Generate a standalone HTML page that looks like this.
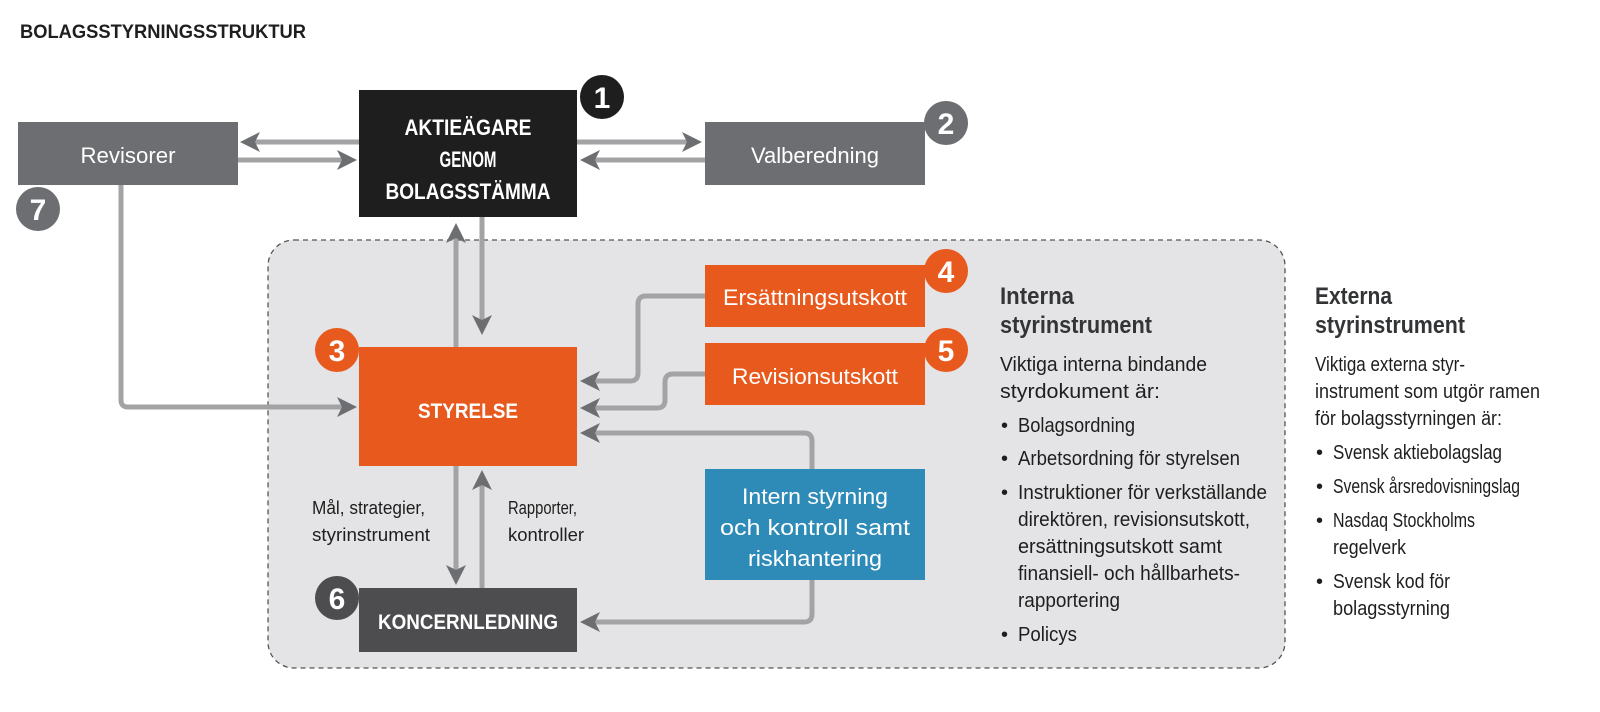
<!DOCTYPE html>
<html><head><meta charset="utf-8"><style>
html,body{margin:0;padding:0;background:#fff;}
svg{display:block;}
text{font-family:"Liberation Sans Narrow","Liberation Sans",sans-serif;}
</style></head><body>
<svg width="1600" height="712" viewBox="0 0 1600 712" xmlns="http://www.w3.org/2000/svg">
<defs>
<marker id="ah" markerWidth="4" markerHeight="4" refX="3" refY="2" orient="auto" markerUnits="strokeWidth">
<path d="M0,0 L4,2 L0,4 L1,2 Z" fill="#6d6e71"/></marker>
</defs>
<text x="20" y="38" font-size="19" font-weight="bold" fill="#1e1e1e" textLength="286" lengthAdjust="spacingAndGlyphs">BOLAGSSTYRNINGSSTRUKTUR</text>

<rect x="268" y="240" width="1017" height="428" rx="26" fill="#e4e4e6" stroke="#555" stroke-width="1.3" stroke-dasharray="5,4"/>

<g stroke="#a3a3a5" stroke-width="5" fill="none" stroke-linejoin="round">
<path d="M359,142 L245,142" marker-end="url(#ah)"/>
<path d="M238,160 L352,160" marker-end="url(#ah)"/>
<path d="M577,142 L697,142" marker-end="url(#ah)"/>
<path d="M705,160 L585,160" marker-end="url(#ah)"/>
<path d="M456,347 L456,228" marker-end="url(#ah)"/>
<path d="M482,217 L482,330" marker-end="url(#ah)"/>
<path d="M121,185 L121,400 Q121,407 128,407 L352,407" marker-end="url(#ah)"/>
<path d="M705,296 L646,296 Q638,296 638,304 L638,373 Q638,381 630,381 L585,381" marker-end="url(#ah)"/>
<path d="M705,374 L673,374 Q665,374 665,382 L665,400 Q665,408 657,408 L585,408" marker-end="url(#ah)"/>
<path d="M812,469 L812,441 Q812,433 804,433 L585,433" marker-end="url(#ah)"/>
<path d="M812,580 L812,614 Q812,622 804,622 L585,622" marker-end="url(#ah)"/>
<path d="M456,466 L456,580" marker-end="url(#ah)"/>
<path d="M482,588 L482,475" marker-end="url(#ah)"/>
</g>

<g lengthAdjust="spacingAndGlyphs">
<rect x="18" y="122" width="220" height="63" fill="#6d6e71"/>
<text x="128" y="163" font-size="22" fill="#fff" text-anchor="middle" textLength="95" lengthAdjust="spacingAndGlyphs">Revisorer</text>
<rect x="705" y="122" width="220" height="63" fill="#6d6e71"/>
<text x="815" y="163" font-size="22" fill="#fff" text-anchor="middle" textLength="128" lengthAdjust="spacingAndGlyphs">Valberedning</text>

<rect x="359" y="90" width="218" height="127" fill="#1e1e1e"/>
<g font-size="22" font-weight="bold" fill="#fff" text-anchor="middle">
<text x="468" y="135" textLength="127" lengthAdjust="spacingAndGlyphs">AKTIEÄGARE</text>
<text x="468" y="167" textLength="57" lengthAdjust="spacingAndGlyphs">GENOM</text>
<text x="468" y="199" textLength="165" lengthAdjust="spacingAndGlyphs">BOLAGSSTÄMMA</text>
</g>

<rect x="359" y="347" width="218" height="119" fill="#e8591e"/>
<text x="468" y="418" font-size="21" font-weight="bold" fill="#fff" text-anchor="middle" textLength="100" lengthAdjust="spacingAndGlyphs">STYRELSE</text>

<rect x="705" y="265" width="220" height="62" fill="#e8591e"/>
<text x="815" y="305" font-size="22" fill="#fff" text-anchor="middle" textLength="184" lengthAdjust="spacingAndGlyphs">Ersättningsutskott</text>
<rect x="705" y="343" width="220" height="62" fill="#e8591e"/>
<text x="815" y="384" font-size="22" fill="#fff" text-anchor="middle" textLength="166" lengthAdjust="spacingAndGlyphs">Revisionsutskott</text>

<rect x="705" y="469" width="220" height="111" fill="#2e8bb8"/>
<g font-size="22" fill="#fff" text-anchor="middle">
<text x="815" y="504" textLength="146" lengthAdjust="spacingAndGlyphs">Intern styrning</text>
<text x="815" y="535" textLength="190" lengthAdjust="spacingAndGlyphs">och kontroll samt</text>
<text x="815" y="566" textLength="134" lengthAdjust="spacingAndGlyphs">riskhantering</text>
</g>

<rect x="359" y="588" width="218" height="64" fill="#4d4d4f"/>
<text x="468" y="629" font-size="21" font-weight="bold" fill="#fff" text-anchor="middle" textLength="180" lengthAdjust="spacingAndGlyphs">KONCERNLEDNING</text>

<g font-size="18" fill="#1e1e1e">
<text x="312" y="514" textLength="113" lengthAdjust="spacingAndGlyphs">Mål, strategier,</text>
<text x="312" y="541" textLength="118" lengthAdjust="spacingAndGlyphs">styrinstrument</text>
<text x="508" y="514" textLength="69" lengthAdjust="spacingAndGlyphs">Rapporter,</text>
<text x="508" y="541" textLength="76" lengthAdjust="spacingAndGlyphs">kontroller</text>
</g>
</g>

<g font-size="30" font-weight="bold" fill="#fff" text-anchor="middle">
<circle cx="602" cy="97" r="22" fill="#1e1e1e"/><text x="602" y="108">1</text>
<circle cx="946" cy="123" r="22" fill="#6d6e71"/><text x="946" y="134">2</text>
<circle cx="38" cy="209" r="22" fill="#6d6e71"/><text x="38" y="220">7</text>
<circle cx="337" cy="350" r="22" fill="#e8591e"/><text x="337" y="361">3</text>
<circle cx="946" cy="271" r="22" fill="#e8591e"/><text x="946" y="282">4</text>
<circle cx="946" cy="350" r="22" fill="#e8591e"/><text x="946" y="361">5</text>
<circle cx="337" cy="598" r="22" fill="#4d4d4f"/><text x="337" y="609">6</text>
</g>

<g fill="#333436" font-size="24" font-weight="bold">
<text x="1000" y="304" textLength="74" lengthAdjust="spacingAndGlyphs">Interna</text>
<text x="1000" y="333" textLength="152" lengthAdjust="spacingAndGlyphs">styrinstrument</text>
<text x="1315" y="304" textLength="77" lengthAdjust="spacingAndGlyphs">Externa</text>
<text x="1315" y="333" textLength="150" lengthAdjust="spacingAndGlyphs">styrinstrument</text>
</g>
<g font-size="20" fill="#1e1e1e">
<text x="1000" y="371" textLength="207" lengthAdjust="spacingAndGlyphs">Viktiga interna bindande</text>
<text x="1000" y="398" textLength="160" lengthAdjust="spacingAndGlyphs">styrdokument är:</text>
<text x="1001" y="432">•</text><text x="1018" y="432" textLength="117" lengthAdjust="spacingAndGlyphs">Bolagsordning</text>
<text x="1001" y="465">•</text><text x="1018" y="465" textLength="222" lengthAdjust="spacingAndGlyphs">Arbetsordning för styrelsen</text>
<text x="1001" y="499">•</text><text x="1018" y="499" textLength="249" lengthAdjust="spacingAndGlyphs">Instruktioner för verkställande</text>
<text x="1018" y="526" textLength="232" lengthAdjust="spacingAndGlyphs">direktören, revisionsutskott,</text>
<text x="1018" y="553" textLength="204" lengthAdjust="spacingAndGlyphs">ersättningsutskott samt</text>
<text x="1018" y="580" textLength="222" lengthAdjust="spacingAndGlyphs">finansiell- och hållbarhets-</text>
<text x="1018" y="607" textLength="102" lengthAdjust="spacingAndGlyphs">rapportering</text>
<text x="1001" y="641">•</text><text x="1018" y="641" textLength="59" lengthAdjust="spacingAndGlyphs">Policys</text>

<text x="1315" y="371" textLength="150" lengthAdjust="spacingAndGlyphs">Viktiga externa styr-</text>
<text x="1315" y="398" textLength="225" lengthAdjust="spacingAndGlyphs">instrument som utgör ramen</text>
<text x="1315" y="425" textLength="187" lengthAdjust="spacingAndGlyphs">för bolagsstyrningen är:</text>
<text x="1316" y="459">•</text><text x="1333" y="459" textLength="169" lengthAdjust="spacingAndGlyphs">Svensk aktiebolagslag</text>
<text x="1316" y="493">•</text><text x="1333" y="493" textLength="187" lengthAdjust="spacingAndGlyphs">Svensk årsredovisningslag</text>
<text x="1316" y="527">•</text><text x="1333" y="527" textLength="142" lengthAdjust="spacingAndGlyphs">Nasdaq Stockholms</text>
<text x="1333" y="554" textLength="73" lengthAdjust="spacingAndGlyphs">regelverk</text>
<text x="1316" y="588">•</text><text x="1333" y="588" textLength="117" lengthAdjust="spacingAndGlyphs">Svensk kod för</text>
<text x="1333" y="615" textLength="117" lengthAdjust="spacingAndGlyphs">bolagsstyrning</text>
</g>
</svg>
</body></html>
